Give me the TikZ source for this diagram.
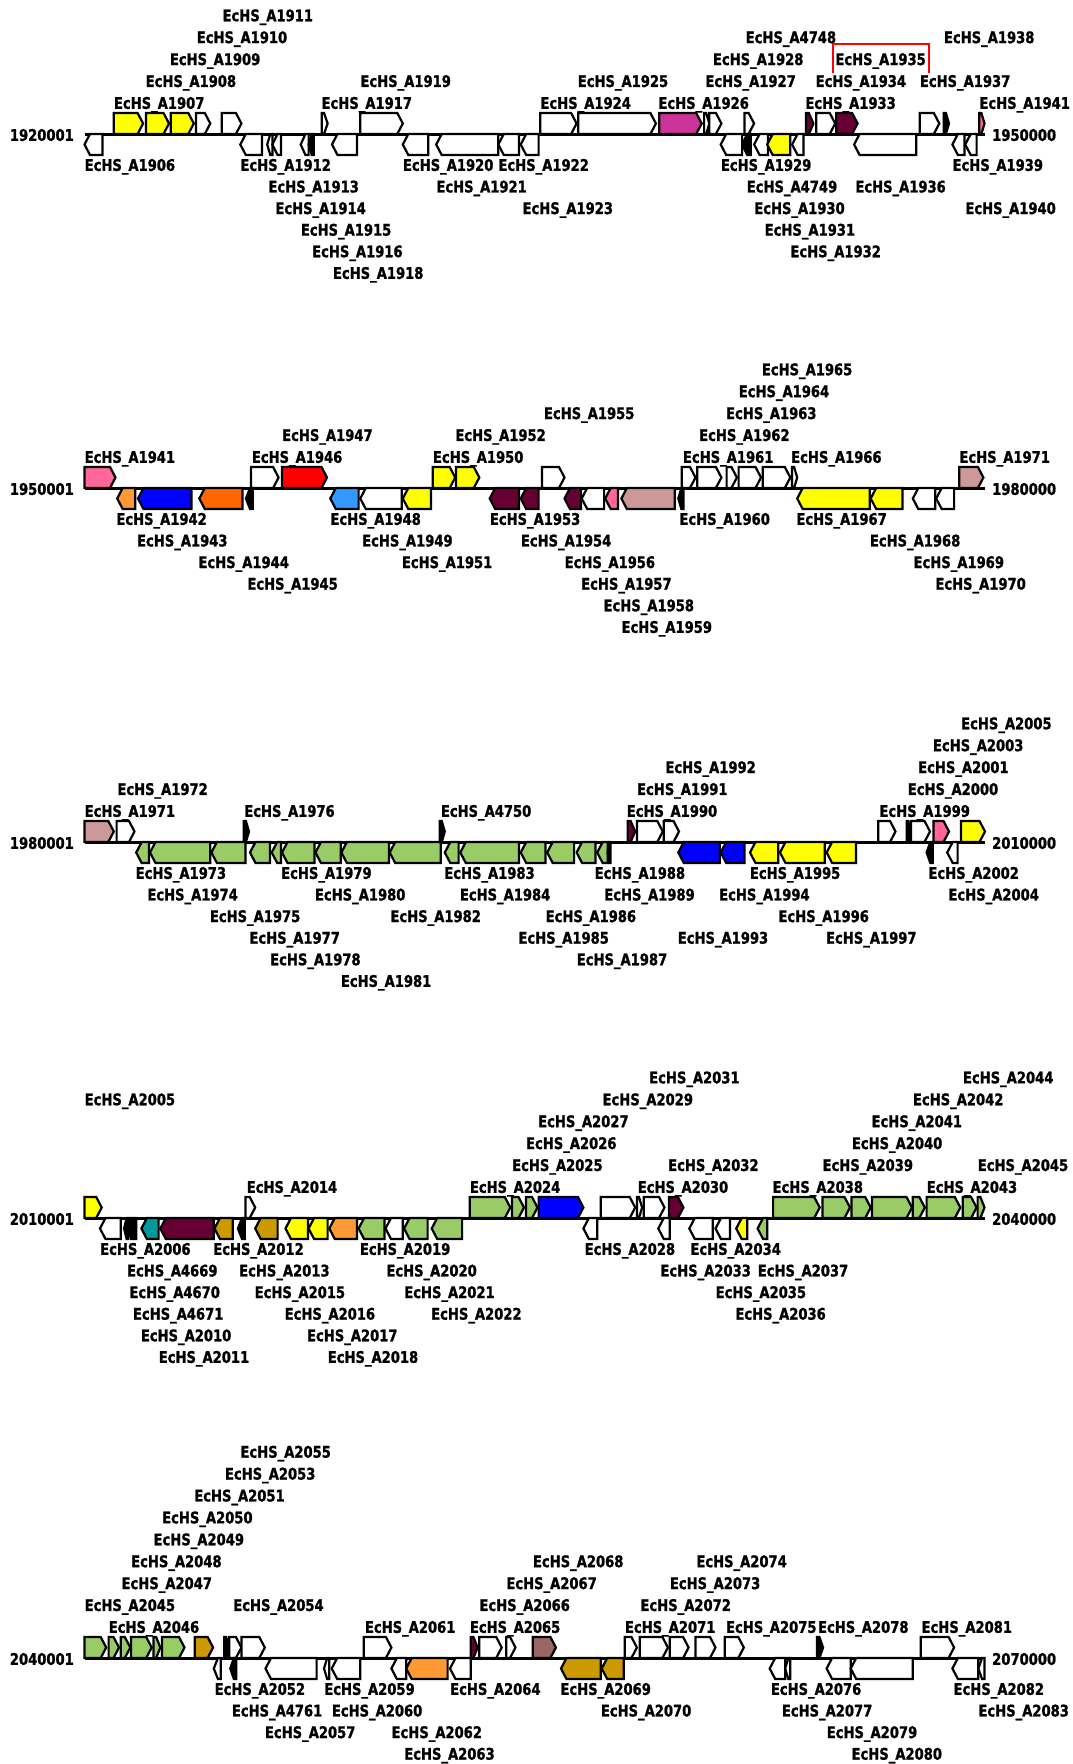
\documentclass[tikz,border=0pt]{standalone}
\usepackage{fontspec}
\newfontfamily\labfont[FakeStretch=0.82,FakeBold=1.2]{DejaVu Sans}
\definecolor{yel}{HTML}{FFFF00}
\definecolor{mag}{HTML}{CC3399}
\definecolor{mar}{HTML}{660033}
\definecolor{pnk}{HTML}{FF6699}
\definecolor{blu}{HTML}{0000FF}
\definecolor{ltor}{HTML}{FF9933}
\definecolor{org}{HTML}{FF6600}
\definecolor{ltblu}{HTML}{3399FF}
\definecolor{rosy}{HTML}{CC9999}
\definecolor{grn}{HTML}{99CC66}
\definecolor{tealg}{HTML}{009999}
\definecolor{gld}{HTML}{CC9900}
\definecolor{brn}{HTML}{996666}
\definecolor{hired}{HTML}{FF0000}

\tikzset{
  gene/.style={draw=black, line width=2.2pt, line join=miter},
  axisline/.style={draw=black, line width=3pt},
  lbl/.style={anchor=west, inner sep=0pt, text height=11.7pt, text depth=0pt,
    font=\labfont\bfseries\fontsize{16}{16}\selectfont},
  poslbl/.style={lbl},
  hibox/.style={draw=hired, line width=2.4pt}
}

% current track baseline (y grows downwards)
\newcommand\trk{134}
\newcounter{labn}
% forward gene: start, end, fill
\newcommand\gfwd[3]{%
  \pgfmathsetmacro\hh{min(5.5,0.6*(#2-#1))}%
  \filldraw[gene,fill=#3] (#1,\trk) -- (#1,\trk-21) -- (#2-\hh,\trk-21)
    -- (#2,\trk-10.5) -- (#2-\hh,\trk) -- cycle;}
% reverse gene: start, end, fill
\newcommand\grev[3]{%
  \pgfmathsetmacro\hh{min(5.5,0.6*(#2-#1))}%
  \filldraw[gene,fill=#3] (#2,\trk) -- (#2,\trk+21) -- (#1+\hh,\trk+21)
    -- (#1,\trk+10.5) -- (#1+\hh,\trk) -- cycle;}
% labels above / below the axis: x, row, locus number
\newcommand\labup[3]{\stepcounter{labn}%
  \node[lbl] (lab\arabic{labn}) at (#1,\trk-31-21.9*#2+21.9) {EcHS\_A#3};}
\newcommand\labdn[3]{\stepcounter{labn}%
  \node[lbl] (lab\arabic{labn}) at (#1,\trk+31+21.6*#2-21.6) {EcHS\_A#3};}
% axis with its start and end positions
\newcommand\axis[3]{%
  \draw[axisline] (84.5,\trk) -- (984.5,\trk);
  \node[poslbl,anchor=east] (s#1) at (74,\trk+1) {#2};
  \node[poslbl] (e#1) at (992,\trk+1) {#3};}

\begin{document}
\begin{tikzpicture}[x=1pt,y=-1pt]
\fill[white] (0,0) rectangle (1072,1764);
\useasboundingbox (0,0) rectangle (1072,1764);

%% ---------------- track 1 ----------------
\renewcommand\trk{134}
\axis{1}{1920001}{1950000}
\gfwd{113.8}{143.1}{yel}
\gfwd{145.9}{169}{yel}
\gfwd{170.7}{193.8}{yel}
\gfwd{195.9}{210.3}{white}
\gfwd{221.7}{241.4}{white}
\gfwd{321.7}{327.6}{white}
\gfwd{360.3}{402.8}{white}
\gfwd{540.3}{576.6}{white}
\gfwd{578.3}{655.9}{white}
\gfwd{659.3}{701.7}{mag}
\gfwd{704.1}{709.3}{white}
\gfwd{709.3}{721.4}{white}
\gfwd{744.5}{754.1}{white}
\gfwd{805.9}{813.4}{mar}
\gfwd{816.2}{835.2}{white}
\gfwd{836.2}{857.6}{mar}
\gfwd{919.7}{939.3}{white}
\gfwd{943.8}{949}{black}
\gfwd{979.3}{984.5}{pnk}
\grev{84.5}{102.4}{white}
\grev{240.3}{262}{white}
\grev{267.2}{272.4}{white}
\grev{272.4}{281}{white}
\grev{300.7}{308.6}{white}
\grev{308.6}{313.8}{black}
\grev{332}{357}{white}
\grev{402.8}{428.3}{white}
\grev{436.2}{498.3}{white}
\grev{498.3}{519}{white}
\grev{520.7}{538.6}{white}
\grev{720.7}{742.1}{white}
\grev{742.1}{750.7}{black}
\grev{754.1}{767.9}{white}
\grev{767.2}{790.3}{yel}
\grev{792.1}{803.4}{white}
\grev{854.1}{916.2}{white}
\grev{952.4}{964.5}{white}
\grev{965.2}{976.6}{white}
\labup{113.8}{1}{1907}
\labup{145.5}{2}{1908}
\labup{169.7}{3}{1909}
\labup{196.6}{4}{1910}
\labup{222.4}{5}{1911}
\labup{321.4}{1}{1917}
\labup{360.3}{2}{1919}
\labup{540.3}{1}{1924}
\labup{577.6}{2}{1925}
\labup{658.3}{1}{1926}
\labup{705.2}{2}{1927}
\labup{712.8}{3}{1928}
\labup{745.5}{4}{4748}
\labup{805.2}{1}{1933}
\labup{815.5}{2}{1934}
\labup{835.2}{3}{1935}
\labup{919.7}{2}{1937}
\labup{943.8}{4}{1938}
\labup{979.3}{1}{1941}
\labdn{84.5}{1}{1906}
\labdn{240.3}{1}{1912}
\labdn{268.3}{2}{1913}
\labdn{275.2}{3}{1914}
\labdn{300.7}{4}{1915}
\labdn{312}{5}{1916}
\labdn{332.8}{6}{1918}
\labdn{402.8}{1}{1920}
\labdn{436.2}{2}{1921}
\labdn{498.3}{1}{1922}
\labdn{522.4}{3}{1923}
\labdn{720.7}{1}{1929}
\labdn{746.6}{2}{4749}
\labdn{754.1}{3}{1930}
\labdn{764.5}{4}{1931}
\labdn{790.3}{5}{1932}
\labdn{855.2}{2}{1936}
\labdn{952.4}{1}{1939}
\labdn{965.2}{3}{1940}
% highlighted locus
\draw[hibox] (832.8,72.7) -- (832.8,44) -- (929,44) -- (929,72.7);

%% ---------------- track 2 ----------------
\renewcommand\trk{488}
\axis{2}{1950001}{1980000}
\gfwd{84.5}{115.5}{pnk}
\gfwd{251}{278.6}{white}
\gfwd{282}{327}{red}
\gfwd{432.8}{455.2}{yel}
\gfwd{455.9}{479.3}{yel}
\gfwd{542}{564.5}{white}
\gfwd{681.7}{695.5}{white}
\gfwd{697.2}{721.4}{white}
\gfwd{726.6}{736.9}{white}
\gfwd{738.6}{761}{white}
\gfwd{762.8}{790.3}{white}
\gfwd{792}{797.2}{white}
\gfwd{959.3}{983.4}{rosy}
\grev{117.2}{135.2}{ltor}
\grev{138}{191.4}{blu}
\grev{199.3}{242.4}{org}
\grev{245.9}{252.8}{black}
\grev{330.3}{358.6}{ltblu}
\grev{360.3}{401.7}{white}
\grev{402.8}{431}{yel}
\grev{489.7}{519}{mar}
\grev{520.7}{538.6}{mar}
\grev{564.5}{581}{mar}
\grev{581.7}{604.1}{white}
\grev{605.2}{617.9}{pnk}
\grev{621.4}{674.8}{rosy}
\grev{678.3}{683.4}{black}
\grev{797.2}{869.7}{yel}
\grev{870.7}{902.4}{yel}
\grev{912.8}{935.2}{white}
\grev{936.2}{954.1}{white}
\labup{84.5}{1}{1941}
\labup{251.7}{1}{1946}
\labup{282}{2}{1947}
\labup{432.8}{1}{1950}
\labup{455.2}{2}{1952}
\labup{543.8}{3}{1955}
\labup{682.8}{1}{1961}
\labup{699}{2}{1962}
\labup{725.9}{3}{1963}
\labup{738.6}{4}{1964}
\labup{761.7}{5}{1965}
\labup{791}{1}{1966}
\labup{959.3}{1}{1971}
\labdn{116.2}{1}{1942}
\labdn{136.9}{2}{1943}
\labdn{198.3}{3}{1944}
\labdn{247.2}{4}{1945}
\labdn{330.3}{1}{1948}
\labdn{362}{2}{1949}
\labdn{401.7}{3}{1951}
\labdn{489.7}{1}{1953}
\labdn{520.7}{2}{1954}
\labdn{564.5}{3}{1956}
\labdn{581}{4}{1957}
\labdn{603.4}{5}{1958}
\labdn{621.4}{6}{1959}
\labdn{679.3}{1}{1960}
\labdn{796.2}{1}{1967}
\labdn{869.7}{2}{1968}
\labdn{913.4}{3}{1969}
\labdn{935.2}{4}{1970}

%% ---------------- track 3 ----------------
\renewcommand\trk{842}
\axis{3}{1980001}{2010000}
\gfwd{84.5}{113.8}{rosy}
\gfwd{116.6}{134.5}{white}
\gfwd{243.8}{249}{black}
\gfwd{439.7}{444.8}{black}
\gfwd{627.6}{635.2}{mar}
\gfwd{636.9}{662.8}{white}
\gfwd{663.8}{679}{white}
\gfwd{878.3}{895.5}{white}
\gfwd{906.6}{911}{black}
\gfwd{911}{930}{white}
\gfwd{933.4}{949}{pnk}
\gfwd{961}{985}{yel}
\grev{136.2}{149}{grn}
\grev{150}{210.3}{grn}
\grev{211.4}{245.5}{grn}
\grev{250}{270}{grn}
\grev{271.7}{281}{grn}
\grev{282}{314.5}{grn}
\grev{315.5}{340.7}{grn}
\grev{341.4}{389}{grn}
\grev{389.7}{440.7}{grn}
\grev{444.8}{458.6}{grn}
\grev{460.3}{519}{grn}
\grev{520.7}{545.5}{grn}
\grev{547.2}{574.1}{grn}
\grev{576.6}{595.5}{grn}
\grev{597.2}{607.6}{grn}
\grev{607.6}{610.5}{black}
\grev{678.3}{719.7}{blu}
\grev{720.7}{744.5}{blu}
\grev{750}{778.3}{yel}
\grev{780}{824.8}{yel}
\grev{826.6}{855.9}{yel}
\grev{926.6}{932.8}{black}
\grev{947.2}{957.6}{white}
\labup{84.5}{1}{1971}
\labup{117.2}{2}{1972}
\labup{244.1}{1}{1976}
\labup{440.7}{1}{4750}
\labup{626.6}{1}{1990}
\labup{636.9}{2}{1991}
\labup{665.2}{3}{1992}
\labup{879.3}{1}{1999}
\labup{907.6}{2}{2000}
\labup{918}{3}{2001}
\labup{932.8}{4}{2003}
\labup{961}{5}{2005}
\labdn{135.5}{1}{1973}
\labdn{147.2}{2}{1974}
\labdn{209.7}{3}{1975}
\labdn{249.3}{4}{1977}
\labdn{270}{5}{1978}
\labdn{281}{1}{1979}
\labdn{314.8}{2}{1980}
\labdn{340.7}{6}{1981}
\labdn{390.3}{3}{1982}
\labdn{444.1}{1}{1983}
\labdn{459.7}{2}{1984}
\labdn{518.3}{4}{1985}
\labdn{545.5}{3}{1986}
\labdn{576.6}{5}{1987}
\labdn{594.5}{1}{1988}
\labdn{604.1}{2}{1989}
\labdn{677.6}{4}{1993}
\labdn{719}{2}{1994}
\labdn{749.7}{1}{1995}
\labdn{778.3}{3}{1996}
\labdn{825.9}{4}{1997}
\labdn{928.3}{1}{2002}
\labdn{948.3}{2}{2004}

%% ---------------- track 4 ----------------
\renewcommand\trk{1218}
\axis{4}{2010001}{2040000}
\gfwd{84.5}{101.7}{yel}
\gfwd{245.5}{255.2}{white}
\gfwd{469.7}{510.3}{grn}
\gfwd{512}{524}{grn}
\gfwd{525.9}{537.5}{grn}
\gfwd{538.6}{583.4}{blu}
\gfwd{600.7}{635.2}{white}
\gfwd{636.9}{642.1}{white}
\gfwd{643.8}{664.5}{white}
\gfwd{669}{683.4}{mar}
\gfwd{773.1}{819.7}{grn}
\gfwd{822.4}{850}{grn}
\gfwd{851.4}{870.7}{grn}
\gfwd{872}{912}{grn}
\gfwd{912.8}{924.8}{grn}
\gfwd{926.6}{960.3}{grn}
\gfwd{962.8}{976.6}{grn}
\gfwd{977.6}{984.5}{grn}
\grev{100}{120.7}{white}
\grev{124.1}{128.3}{black}
\grev{128.3}{132.8}{black}
\grev{132.8}{136.2}{black}
\grev{141.4}{158.6}{tealg}
\grev{160.3}{213.8}{mar}
\grev{214.5}{232.8}{gld}
\grev{237.9}{244.8}{black}
\grev{255.2}{277.6}{gld}
\grev{285.5}{307.9}{yel}
\grev{308.6}{327.6}{yel}
\grev{329.3}{356.9}{ltor}
\grev{358.6}{384.5}{grn}
\grev{385.5}{402.8}{white}
\grev{404.1}{427.6}{grn}
\grev{431.7}{462.1}{grn}
\grev{583.4}{597.2}{white}
\grev{658.3}{669.7}{white}
\grev{689.3}{712.8}{white}
\grev{715.5}{730}{white}
\grev{736.2}{747.2}{yel}
\grev{757.6}{767.2}{grn}
\labup{84.5}{5}{2005}
\labup{246.6}{1}{2014}
\labup{469.7}{1}{2024}
\labup{512}{2}{2025}
\labup{525.9}{3}{2026}
\labup{538}{4}{2027}
\labup{602.4}{5}{2029}
\labup{637.6}{1}{2030}
\labup{649}{6}{2031}
\labup{668}{2}{2032}
\labup{772.4}{1}{2038}
\labup{822.4}{2}{2039}
\labup{851.7}{3}{2040}
\labup{871.4}{4}{2041}
\labup{912.8}{5}{2042}
\labup{926.6}{1}{2043}
\labup{962.8}{6}{2044}
\labup{977.6}{2}{2045}
\labdn{100}{1}{2006}
\labdn{126.9}{2}{4669}
\labdn{129.3}{3}{4670}
\labdn{132.8}{4}{4671}
\labdn{140.7}{5}{2010}
\labdn{158.6}{6}{2011}
\labdn{213.1}{1}{2012}
\labdn{239}{2}{2013}
\labdn{254.5}{3}{2015}
\labdn{284.5}{4}{2016}
\labdn{306.9}{5}{2017}
\labdn{327.6}{6}{2018}
\labdn{359.7}{1}{2019}
\labdn{386.2}{2}{2020}
\labdn{404.1}{3}{2021}
\labdn{431}{4}{2022}
\labdn{584.5}{1}{2028}
\labdn{660.3}{2}{2033}
\labdn{690.3}{1}{2034}
\labdn{715.5}{3}{2035}
\labdn{735.2}{4}{2036}
\labdn{757.6}{2}{2037}

%% ---------------- track 5 ----------------
\renewcommand\trk{1658}
\axis{5}{2040001}{2070000}
\gfwd{84.5}{106.2}{grn}
\gfwd{108.6}{119}{grn}
\gfwd{120.7}{130.3}{grn}
\gfwd{131}{151.7}{grn}
\gfwd{153.4}{160.3}{grn}
\gfwd{162}{184.5}{grn}
\gfwd{194.8}{213.1}{gld}
\gfwd{224.1}{229.3}{black}
\gfwd{229.3}{241.4}{white}
\gfwd{241.4}{264.8}{white}
\gfwd{363.8}{391.4}{white}
\gfwd{470.7}{477.6}{mar}
\gfwd{479.3}{501.7}{white}
\gfwd{506.2}{515.5}{white}
\gfwd{532.8}{555.9}{brn}
\gfwd{624.8}{636.9}{white}
\gfwd{639.7}{667.9}{white}
\gfwd{669.7}{688.6}{white}
\gfwd{695.5}{715.5}{white}
\gfwd{724.8}{743.8}{white}
\gfwd{816.9}{823.1}{black}
\gfwd{920.7}{954.1}{white}
\grev{213.8}{220.7}{white}
\grev{230.3}{236.2}{black}
\grev{265.5}{316.6}{white}
\grev{324}{329.3}{white}
\grev{331.7}{360.3}{white}
\grev{391.4}{406.2}{white}
\grev{406.2}{447.6}{ltor}
\grev{450}{470.7}{white}
\grev{561}{600.7}{gld}
\grev{601.7}{623.8}{gld}
\grev{769.7}{785.2}{white}
\grev{785.2}{790.3}{white}
\grev{826.6}{850.7}{white}
\grev{850.7}{912.8}{white}
\grev{952.4}{978.3}{white}
\grev{978.3}{984.5}{white}
\labup{84.5}{2}{2045}
\labup{108.6}{1}{2046}
\labup{121.4}{3}{2047}
\labup{131}{4}{2048}
\labup{153.4}{5}{2049}
\labup{162}{6}{2050}
\labup{194.1}{7}{2051}
\labup{224.8}{8}{2053}
\labup{233.1}{2}{2054}
\labup{240.3}{9}{2055}
\labup{364.8}{1}{2061}
\labup{469.7}{1}{2065}
\labup{479.3}{2}{2066}
\labup{506.2}{3}{2067}
\labup{532.8}{4}{2068}
\labup{624.8}{1}{2071}
\labup{640.3}{2}{2072}
\labup{669.7}{3}{2073}
\labup{696.2}{4}{2074}
\labup{725.9}{1}{2075}
\labup{817.9}{1}{2078}
\labup{921.4}{1}{2081}
\labdn{214.5}{1}{2052}
\labdn{231.7}{2}{4761}
\labdn{264.8}{3}{2057}
\labdn{324.1}{1}{2059}
\labdn{331.7}{2}{2060}
\labdn{391.4}{3}{2062}
\labdn{404.1}{4}{2063}
\labdn{450}{1}{2064}
\labdn{560.3}{1}{2069}
\labdn{600.7}{2}{2070}
\labdn{770.7}{1}{2076}
\labdn{781.7}{2}{2077}
\labdn{826.6}{3}{2079}
\labdn{851.4}{4}{2080}
\labdn{953.4}{1}{2082}
\labdn{978.3}{2}{2083}
\end{tikzpicture}
\end{document}
